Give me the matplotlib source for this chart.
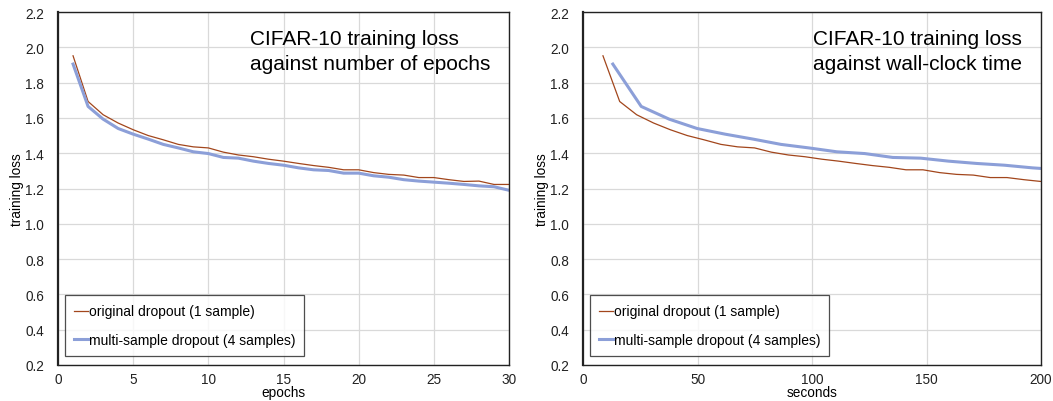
import numpy as np
import matplotlib
matplotlib.use("Agg")
import matplotlib.pyplot as plt

plt.rcParams['font.family'] = ['Liberation Sans', 'DejaVu Sans']

# per-epoch training loss
epochs = list(range(1, 31))
orig_loss = [1.952, 1.693, 1.618, 1.571, 1.533, 1.500, 1.476, 1.450, 1.436, 1.430,
             1.406, 1.390, 1.380, 1.366, 1.355, 1.342, 1.330, 1.320, 1.306, 1.306,
             1.290, 1.280, 1.276, 1.262, 1.262, 1.250, 1.240, 1.242, 1.223, 1.223]
multi_loss = [1.905, 1.665, 1.593, 1.540, 1.508, 1.480, 1.450, 1.430, 1.408, 1.398,
              1.376, 1.372, 1.355, 1.342, 1.332, 1.317, 1.306, 1.302, 1.287, 1.287,
              1.272, 1.264, 1.250, 1.242, 1.236, 1.230, 1.223, 1.215, 1.210, 1.190]

# wall-clock seconds at the end of each epoch
orig_sec = [8.7, 16.0, 23.4, 30.8, 38.1, 45.5, 52.8, 60.2, 67.5, 74.9,
            82.2, 89.6, 96.9, 104.3, 111.6, 119.0, 126.3, 133.7, 141.0, 148.4,
            155.7, 163.1, 170.4, 177.8, 185.1, 192.5, 199.8, 207.2, 214.5, 221.9]
multi_sec = [13.0, 25.4, 37.6, 49.8, 62.0, 74.2, 86.4, 98.6, 110.8, 123.0,
             135.2, 147.4, 159.6, 171.8, 184.0, 196.2, 208.4, 220.6, 232.8, 245.0,
             257.2, 269.4, 281.6, 293.8, 306.0, 318.2, 330.4, 342.6, 354.8, 367.0]

labels = ['original dropout (1 sample)', 'multi-sample dropout (4 samples)']
brown = '#a2461c'
blue = '#8c9fd8'

fig = plt.figure(figsize=(10.53, 4.02), dpi=100)
ax1 = fig.add_axes([0.0551, 0.0896, 0.4283, 0.878])
ax2 = fig.add_axes([0.5537, 0.0896, 0.4350, 0.878])


def style(ax, xmax, xstep, xlabel, line1, line2, tx):
    ax.set_xlim(0, xmax)
    ax.set_ylim(0.2, 2.2)
    ax.set_xticks(np.arange(0, xmax + 1, xstep))
    ax.set_yticks(np.arange(0.2, 2.21, 0.2))
    ax.set_yticklabels(['%.1f' % v for v in np.arange(0.2, 2.21, 0.2)])
    ax.tick_params(axis='y', length=0, labelsize=9.8, pad=10, colors='#222222')
    ax.tick_params(axis='x', length=0, labelsize=9.8, pad=5, colors='#222222')
    ax.grid(True, color='#d9d9d9', lw=0.9)
    ax.set_axisbelow(True)
    for s in ax.spines.values():
        s.set_linewidth(1.0)
        s.set_color('#222222')
    ax.spines['left'].set_linewidth(1.6)
    ax.set_xlabel(xlabel, fontsize=9.8, labelpad=-1)
    ax.set_ylabel('training loss', fontsize=9.8, labelpad=1)
    ax.text(tx, 0.909, line1, transform=ax.transAxes, fontsize=15, va='baseline')
    ax.text(tx, 0.8385, line2, transform=ax.transAxes, fontsize=15, va='baseline')
    leg = ax.legend(loc='lower left', bbox_to_anchor=(0.0155, 0.0255), borderaxespad=0,
                    fontsize=10, frameon=True, fancybox=False, edgecolor='#222222',
                    handlelength=1.0, handletextpad=0.05, labelspacing=1.05,
                    borderpad=0.65)
    leg.get_frame().set_linewidth(0.9)


ax1.plot(epochs, orig_loss, color=brown, lw=0.9, label=labels[0])
ax1.plot(epochs, multi_loss, color=blue, lw=2.2, label=labels[1])
style(ax1, 30, 5, 'epochs', 'CIFAR-10 training loss', 'against number of epochs', 0.426)

ax2.plot(orig_sec, orig_loss, color=brown, lw=0.9, label=labels[0])
ax2.plot(multi_sec, multi_loss, color=blue, lw=2.2, label=labels[1])
style(ax2, 200, 50, 'seconds', 'CIFAR-10 training loss', 'against wall-clock time', 0.502)

fig.savefig('out.png', dpi=100)
